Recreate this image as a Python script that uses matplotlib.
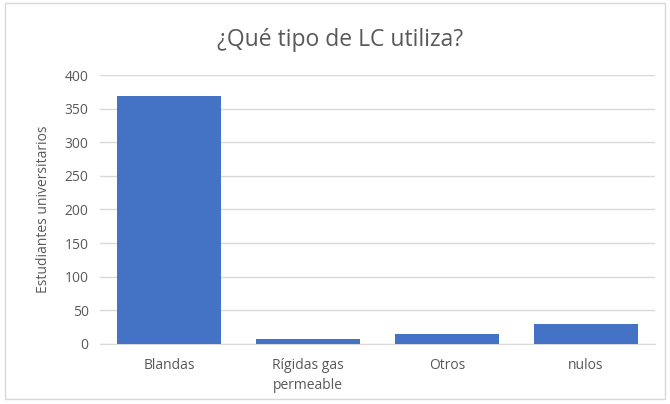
import matplotlib
matplotlib.use("Agg")
import matplotlib.pyplot as plt
from matplotlib.patches import Rectangle

categorias = ["Blandas", "Rígidas gas\npermeable", "Otros", "nulos"]
estudiantes = [369, 7, 14, 30]

plt.rcParams['font.family'] = ['Open Sans', 'DejaVu Sans']

fig = plt.figure(figsize=(6.7, 4.04), dpi=100)
ax = fig.add_axes([0.149, 0.149, 0.829, 0.665])

x = range(len(categorias))
ax.bar(x, estudiantes, width=0.75, color="#4472C4", zorder=3)
ax.set_xlim(-0.5, len(categorias) - 0.5)
ax.set_ylim(0, 400)
ax.set_yticks(range(0, 401, 50))
ax.set_xticks(list(x))
ax.set_xticklabels(categorias, linespacing=1.45)
ax.grid(axis="y", color="#D9D9D9", linewidth=1, zorder=0)
for s in ["top", "right", "left"]:
    ax.spines[s].set_visible(False)
ax.spines["bottom"].set_color("#D9D9D9")
ax.tick_params(axis="both", length=0, colors="#595959", labelsize=10)
ax.tick_params(axis="y", pad=8)
ax.tick_params(axis="x", pad=10)
ax.set_ylabel("Estudiantes universitarios", color="#595959", fontsize=10,
              labelpad=10)
fig.text(0.508, 0.9, "¿Qué tipo de LC utiliza?", ha="center", va="center",
         fontsize=16.5, color="#595959")

fig.patches.append(Rectangle((0.008, 0.012), 0.984, 0.98, transform=fig.transFigure,
                             fill=False, edgecolor="#D9D9D9", linewidth=1))

fig.savefig("out.png", dpi=100)
